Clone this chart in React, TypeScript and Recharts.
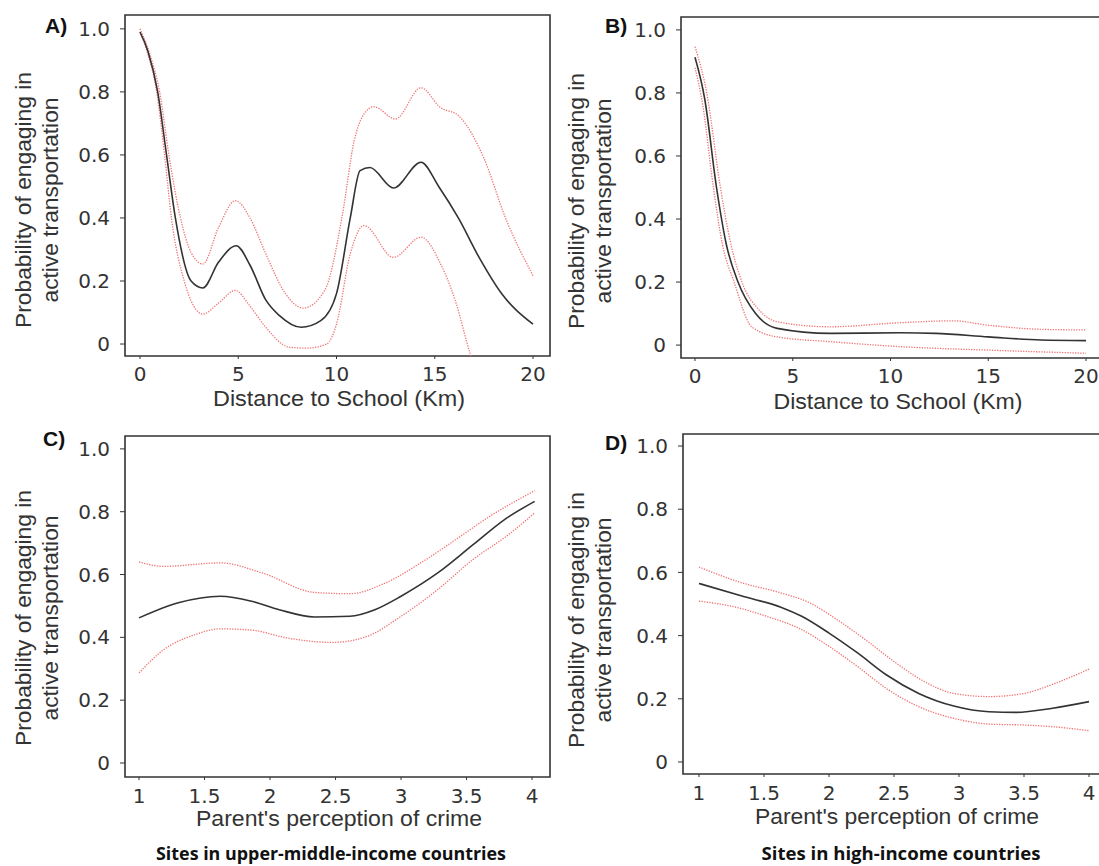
import React from 'react'
import { LineChart, Line, XAxis, YAxis, ReferenceArea } from 'recharts'

// probability ticks shared by all four panels
const probTicks = [0, 0.2, 0.4, 0.6, 0.8, 1.0]
const distanceTicks = [0, 5, 10, 15, 20]
const crimeTicks = [1, 1.5, 2, 2.5, 3, 3.5, 4]

// A) distance, upper-middle-income sites: [km, probability]
const distMeanA = [
  [0, 0.99], [0.4, 0.93], [0.9, 0.8], [1.35, 0.6], [1.8, 0.4], [2.6, 0.2], [3.2, 0.178],
  [4.0, 0.26], [4.9, 0.312], [5.6, 0.25], [6.4, 0.14], [7.1, 0.09], [8.2, 0.053], [9.2, 0.074],
  [10, 0.16], [10.7, 0.4], [11.2, 0.55], [11.7, 0.56], [12.9, 0.495], [14.3, 0.577],
  [15.2, 0.5], [16.2, 0.4], [17.3, 0.27], [18.4, 0.16], [20, 0.063],
]
const distUpperA = [
  [0, 1.0], [0.5, 0.92], [1.0, 0.8], [1.47, 0.6], [2.06, 0.4], [2.6, 0.29], [3.2, 0.254],
  [4.0, 0.37], [4.85, 0.455], [5.6, 0.4], [6.4, 0.286], [7.4, 0.16], [8.3, 0.114], [9.4, 0.17],
  [10.3, 0.41], [10.9, 0.645], [11.4, 0.73], [11.9, 0.753], [13, 0.714], [14.3, 0.813],
  [15.3, 0.75], [16.2, 0.725], [17.5, 0.59], [18.6, 0.4], [20, 0.217],
]
const distLowerA = [
  [0, 0.99], [0.4, 0.92], [0.85, 0.8], [1.25, 0.6], [1.6, 0.4], [2.25, 0.2], [3.2, 0.095],
  [4.0, 0.13], [4.85, 0.17], [5.6, 0.12], [6.4, 0.053], [7.6, -0.01], [8.5, -0.013], [9.5, 0],
  [10, 0.063], [10.7, 0.286], [11.4, 0.376], [12.9, 0.275], [14.3, 0.339], [15.3, 0.254],
  [16.05, 0.137], [16.8, -0.03], [17.5, -0.15],
]

// B) distance, high-income sites
const distMeanB = [
  [0, 0.913], [0.5, 0.78], [1.1, 0.5], [1.6, 0.32], [2.2, 0.2], [3.1, 0.1], [4.2, 0.053],
  [6.9, 0.037], [10.5, 0.039], [12.3, 0.037], [15, 0.026], [17.7, 0.016], [20, 0.014],
]
const distUpperB = [
  [0, 0.947], [0.6, 0.8], [1.3, 0.5], [1.8, 0.33], [2.4, 0.2], [3.3, 0.11], [4.2, 0.074],
  [6.9, 0.058], [10.5, 0.071], [13.2, 0.077], [15, 0.063], [17.7, 0.05], [20, 0.048],
]
const distLowerB = [
  [0, 0.88], [0.4, 0.76], [0.94, 0.5], [1.4, 0.32], [2.0, 0.2], [2.9, 0.058], [4.2, 0.026],
  [6.9, 0.011], [10.5, -0.005], [15, -0.016], [20, -0.026],
]

// C) crime perception, upper-middle-income sites
const crimeMeanC = [
  [1, 0.462], [1.3, 0.51], [1.62, 0.531], [1.86, 0.515], [2.07, 0.488], [2.34, 0.465],
  [2.61, 0.467], [2.8, 0.488], [3.0, 0.531], [3.28, 0.605], [3.55, 0.695], [3.79, 0.775], [4.02, 0.833],
]
const crimeUpperC = [
  [1, 0.64], [1.19, 0.626], [1.62, 0.637], [1.94, 0.605], [2.34, 0.543], [2.61, 0.539],
  [2.88, 0.573], [3.15, 0.637], [3.41, 0.709], [3.68, 0.786], [4.02, 0.867],
]
const crimeLowerC = [
  [1, 0.287], [1.19, 0.361], [1.43, 0.409], [1.62, 0.427], [1.86, 0.423], [2.13, 0.398],
  [2.48, 0.384], [2.74, 0.403], [3.0, 0.467], [3.28, 0.552], [3.55, 0.648], [3.82, 0.727], [4.02, 0.796],
]

// D) crime perception, high-income sites
const crimeMeanD = [
  [1, 0.565], [1.33, 0.525], [1.63, 0.49], [1.79, 0.461], [2.0, 0.408], [2.22, 0.345],
  [2.44, 0.276], [2.69, 0.217], [2.96, 0.177], [3.23, 0.159], [3.44, 0.157], [3.72, 0.17], [4.0, 0.191],
]
const crimeUpperD = [
  [1, 0.617], [1.33, 0.567], [1.63, 0.535], [1.85, 0.504], [2.06, 0.451], [2.28, 0.387],
  [2.5, 0.318], [2.71, 0.26], [2.96, 0.217], [3.23, 0.207], [3.5, 0.217], [3.74, 0.249], [4.0, 0.294],
]
const crimeLowerD = [
  [1, 0.509], [1.25, 0.493], [1.52, 0.461], [1.79, 0.419], [2.0, 0.366], [2.22, 0.302],
  [2.44, 0.233], [2.69, 0.175], [2.96, 0.138], [3.23, 0.12], [3.5, 0.117], [3.74, 0.111], [4.0, 0.099],
]

const toPoints = (arr: number[][]) => arr.map(([x, y]) => ({ x, y }))

const tickFont = { fontSize: 20, fill: '#333', fontFamily: 'DejaVu Sans' }
const ciStyle = { stroke: '#ee6464', strokeWidth: 1.3, strokeDasharray: '1.3 1.3', strokeOpacity: 0.9 }

interface PanelProps {
  left: number
  top: number
  width: number
  height: number
  marginTop: number
  marginRight: number
  yAxisWidth: number
  xAxisHeight: number
  xDomain: [number, number]
  yDomain: [number, number]
  xTicks: number[]
  xTickMargin: number
  mean: number[][]
  upper: number[][]
  lower: number[][]
}

function Panel(p: PanelProps) {
  return (
    <div style={{ position: 'absolute', left: p.left, top: p.top }}>
      <LineChart
        width={p.width}
        height={p.height}
        margin={{ top: p.marginTop, right: p.marginRight, bottom: 0, left: 0 }}
      >
        <XAxis
          type="number"
          dataKey="x"
          domain={p.xDomain}
          allowDataOverflow
          ticks={p.xTicks}
          interval={0}
          height={p.xAxisHeight}
          tickSize={3}
          tickMargin={p.xTickMargin}
          axisLine={false}
          tickLine={{ stroke: '#333' }}
          tick={tickFont}
        />
        <YAxis
          type="number"
          domain={p.yDomain}
          allowDataOverflow
          ticks={probTicks}
          interval={0}
          width={p.yAxisWidth}
          tickSize={5}
          tickMargin={10}
          axisLine={false}
          tickLine={{ stroke: '#333' }}
          tick={tickFont}
          tickFormatter={(v: number) => (v === 0 ? '0' : v.toFixed(1))}
        />
        <ReferenceArea
          x1={p.xDomain[0]}
          x2={p.xDomain[1]}
          y1={p.yDomain[0]}
          y2={p.yDomain[1]}
          fill="none"
          stroke="#333"
          strokeWidth={1.6}
          ifOverflow="visible"
        />
        <Line data={toPoints(p.upper)} dataKey="y" type="monotone" dot={false} isAnimationActive={false} {...ciStyle} />
        <Line data={toPoints(p.lower)} dataKey="y" type="monotone" dot={false} isAnimationActive={false} {...ciStyle} />
        <Line
          data={toPoints(p.mean)}
          dataKey="y"
          type="monotone"
          dot={false}
          stroke="#333"
          strokeWidth={1.6}
          isAnimationActive={false}
        />
      </LineChart>
    </div>
  )
}

const sans = 'Liberation Sans, Arial, sans-serif'

function YTitle({ x, y }: { x: number; y: number }) {
  return (
    <g fontFamily={sans} fontSize={22} fill="#333" textAnchor="middle">
      <text transform={`translate(${x},${y}) rotate(-90)`} textLength={256} lengthAdjust="spacingAndGlyphs">
        Probability of engaging in
      </text>
      <text transform={`translate(${x + 27},${y}) rotate(-90)`} textLength={205} lengthAdjust="spacingAndGlyphs">
        active transportation
      </text>
    </g>
  )
}

export default function App() {
  return (
    <div
      style={{
        position: 'absolute',
        left: 0,
        top: 0,
        width: 1099,
        height: 866,
        overflow: 'hidden',
        background: '#fff',
      }}
    >
      <Panel
        left={0} top={0} width={560} height={420} marginTop={15} marginRight={10}
        yAxisWidth={125} xAxisHeight={64}
        xDomain={[-0.763, 20.865]} yDomain={[-0.038, 1.044]}
        xTicks={distanceTicks} xTickMargin={8}
        mean={distMeanA} upper={distUpperA} lower={distLowerA}
      />
      <Panel
        left={549} top={0} width={566} height={420} marginTop={17} marginRight={10}
        yAxisWidth={132} xAxisHeight={62}
        xDomain={[-0.716, 20.97]} yDomain={[-0.041, 1.041]}
        xTicks={distanceTicks} xTickMargin={8}
        mean={distMeanB} upper={distUpperB} lower={distLowerB}
      />
      <Panel
        left={0} top={420} width={560} height={446} marginTop={16} marginRight={10}
        yAxisWidth={125} xAxisHeight={89}
        xDomain={[0.893, 4.137]} yDomain={[-0.0446, 1.041]}
        xTicks={crimeTicks} xTickMargin={9}
        mean={crimeMeanC} upper={crimeUpperC} lower={crimeLowerC}
      />
      <Panel
        left={549} top={420} width={566} height={446} marginTop={14} marginRight={10}
        yAxisWidth={134} xAxisHeight={92}
        xDomain={[0.877, 4.123]} yDomain={[-0.038, 1.038]}
        xTicks={crimeTicks} xTickMargin={9}
        mean={crimeMeanD} upper={crimeUpperD} lower={crimeLowerD}
      />
      <svg
        width={1099}
        height={866}
        style={{ position: 'absolute', left: 0, top: 0, pointerEvents: 'none' }}
      >
        <g fontFamily={sans} fontWeight="bold" fontSize={21} fill="#111">
          <text x={45} y={33}>A)</text>
          <text x={605} y={33}>B)</text>
          <text x={43} y={446}>C)</text>
          <text x={605} y={450}>D)</text>
        </g>
        <YTitle x={31} y={200} />
        <YTitle x={584} y={201} />
        <YTitle x={31} y={618} />
        <YTitle x={584} y={620} />
        <g fontFamily={sans} fontSize={22} fill="#333" textAnchor="middle">
          <text x={339} y={406} textLength={252} lengthAdjust="spacingAndGlyphs">Distance to School (Km)</text>
          <text x={898} y={409} textLength={249} lengthAdjust="spacingAndGlyphs">Distance to School (Km)</text>
          <text x={339} y={826} textLength={286} lengthAdjust="spacingAndGlyphs">Parent's perception of crime</text>
          <text x={897} y={824} textLength={284} lengthAdjust="spacingAndGlyphs">Parent's perception of crime</text>
        </g>
        <g fontFamily="'Open Sans', sans-serif" fontWeight="bold" fontSize={17} fill="#111" textAnchor="middle">
          <text x={331} y={860} textLength={350} lengthAdjust="spacingAndGlyphs">Sites in upper-middle-income countries</text>
          <text x={901} y={860} textLength={279} lengthAdjust="spacingAndGlyphs">Sites in high-income countries</text>
        </g>
      </svg>
    </div>
  )
}
